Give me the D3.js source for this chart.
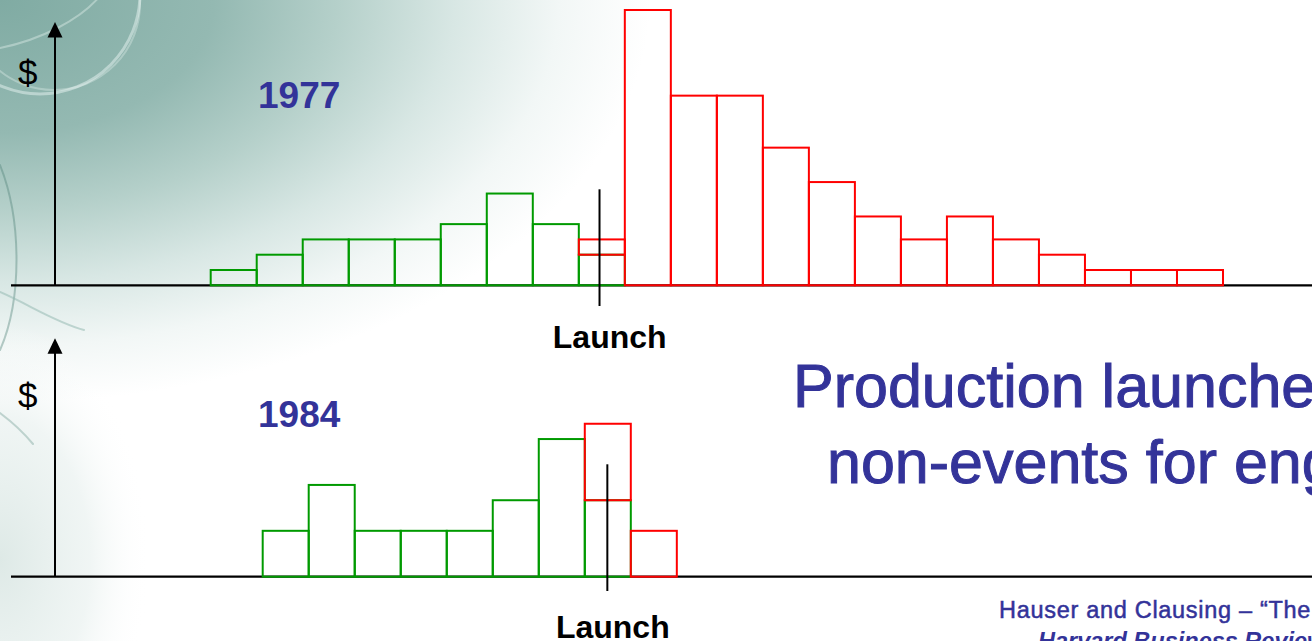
<!DOCTYPE html>
<html>
<head>
<meta charset="utf-8">
<script src="https://cdn.jsdelivr.net/npm/d3@7/dist/d3.min.js"></script>
<style>
  html, body { margin: 0; padding: 0; background: #ffffff; }
  svg { display: block; }
</style>
</head>
<body>
<svg id="chart" width="1312" height="641"></svg>
<script>
// Spending per period around production launch (bin units, relative height)
const years = ["1977", "1984"];

// 1977: spending before launch (green) and after launch (red)
const pre1977 = [1, 2, 3, 3, 3, 4, 6, 4, 2];
const post1977 = [1, 18, 12.4, 12.4, 9, 6.75, 4.5, 3, 4.5, 3, 2, 1, 1, 1];
const postStartBin1977 = 8;     // first bin carrying post-launch spending
const firstBin1977 = 0;
const launchBin1977 = 8.45;

// 1984
const pre1984 = [3, 6, 3, 3, 3, 5, 9, 5];
const post1984 = [5, 3];
const postStartBin1984 = 7;
const firstBin1984 = 1.13;
const launchBin1984 = 7.49;

const axisLabel = "$";
const launchLabel = "Launch";
const titleLines = ["Production launches became", "non-events for engineering"];
const sourceLines = ["Hauser and Clausing \u2013 \u201CThe House of Quality,\u201D",
                     "Harvard Business Review, May\u2013June 1988"];

const W = 1312, H = 641;
const svg = d3.select("#chart");
const GREEN = "#009a00", RED = "#ff0000", BLUE = "#333399";

// ---------- background ----------
const defs = svg.append("defs");
const bg = defs.append("radialGradient")
  .attr("id", "bgGrad")
  .attr("gradientUnits", "userSpaceOnUse")
  .attr("cx", 0).attr("cy", 0).attr("r", 650)
  .attr("gradientTransform", "scale(1,0.62)");
[[0, "#80aba3"], [0.33, "#94b9b2"], [0.52, "#b5d0ca"], [0.7, "#d8e7e4"], [0.86, "#f2f7f6"], [1, "#ffffff"]]
  .forEach(([o, c]) => bg.append("stop").attr("offset", o).attr("stop-color", c));

svg.append("rect").attr("width", W).attr("height", H).attr("fill", "#ffffff");
svg.append("rect").attr("width", W).attr("height", H).attr("fill", "url(#bgGrad)");

// pale wash along the lower left edge
const lw = defs.append("radialGradient").attr("id", "leftWash")
  .attr("gradientUnits", "userSpaceOnUse")
  .attr("cx", 0).attr("cy", 0).attr("r", 1)
  .attr("gradientTransform", "translate(0,560) scale(150,240)");
lw.append("stop").attr("offset", 0).attr("stop-color", "#dce8e5").attr("stop-opacity", 0.95);
lw.append("stop").attr("offset", 0.6).attr("stop-color", "#e6efed").attr("stop-opacity", 0.6);
lw.append("stop").attr("offset", 1).attr("stop-color", "#ffffff").attr("stop-opacity", 0);
svg.append("rect").attr("x", 0).attr("y", 300).attr("width", 160).attr("height", 341)
  .attr("fill", "url(#leftWash)");

// decorative swirls
const deco = svg.append("g").attr("fill", "none").attr("stroke-linecap", "round");
deco.append("circle").attr("cx", 40).attr("cy", -6).attr("r", 100)
  .attr("stroke", "rgba(232,244,241,0.5)").attr("stroke-width", 3);
deco.append("circle").attr("cx", 54).attr("cy", 4).attr("r", 86)
  .attr("stroke", "rgba(232,244,241,0.35)").attr("stroke-width", 2);
deco.append("path").attr("d", "M0,48 C40,40 80,20 100,-4")
  .attr("stroke", "rgba(232,244,241,0.4)").attr("stroke-width", 2);
deco.append("path").attr("d", "M0,165 C22,220 22,300 0,350")
  .attr("stroke", "rgba(80,130,120,0.4)").attr("stroke-width", 2);
deco.append("path").attr("d", "M0,292 C30,305 55,322 84,330")
  .attr("stroke", "rgba(150,185,178,0.55)").attr("stroke-width", 2);
deco.append("path").attr("d", "M0,413 C12,422 24,433 33,444")
  .attr("stroke", "rgba(140,175,168,0.5)").attr("stroke-width", 2);

// ---------- scales ----------
const x = d3.scaleLinear().domain([0, 22]).range([210.7, 1223]);
const h = d3.scaleLinear().domain([0, 18]).range([0, 275.3]);

const panels = [
  { year: years[0], base: 285.3, pre: pre1977, post: post1977, postStart: postStartBin1977,
    first: firstBin1977, launch: launchBin1977, axisTop: 22, launchTop: 189.3, launchBottom: 306,
    launchLabelX: 609.7, launchLabelY: 348.3, dollarY: 85.4, yearY: 107.5 },
  { year: years[1], base: 576.7, pre: pre1984, post: post1984, postStart: postStartBin1984,
    first: firstBin1984, launch: launchBin1984, axisTop: 338.3, launchTop: 464.3, launchBottom: 591,
    launchLabelX: 612.8, launchLabelY: 637.7, dollarY: 407.5, yearY: 427.3 }
];

panels.forEach(p => {
  const g = svg.append("g");

  // baseline
  g.append("line").attr("x1", 11).attr("x2", W).attr("y1", p.base).attr("y2", p.base)
    .attr("stroke", "#000").attr("stroke-width", 2.2);

  // vertical $ axis with arrow head
  g.append("line").attr("x1", 55).attr("x2", 55).attr("y1", p.base).attr("y2", p.axisTop + 12)
    .attr("stroke", "#000").attr("stroke-width", 2);
  g.append("path")
    .attr("d", `M55,${p.axisTop} L62.5,${p.axisTop + 15.5} L47.5,${p.axisTop + 15.5} Z`)
    .attr("fill", "#000");
  g.append("text").attr("x", 18).attr("y", p.dollarY).text(axisLabel)
    .attr("font-family", "'Liberation Sans', Arial, sans-serif").attr("font-size", 35)
    .attr("fill", "#000");

  // year label
  g.append("text").attr("x", 258).attr("y", p.yearY).text(p.year)
    .attr("font-family", "'Liberation Sans', Arial, sans-serif").attr("font-weight", "bold")
    .attr("font-size", 37).attr("fill", BLUE);

  // pre-launch bins
  const preData = p.pre.map((v, i) => ({ bin: p.first + i, lo: 0, hi: v }));
  g.selectAll("rect.pre").data(preData).join("rect").attr("class", "pre")
    .attr("x", d => x(d.bin)).attr("width", d => x(d.bin + 1) - x(d.bin))
    .attr("y", d => p.base - h(d.hi)).attr("height", d => h(d.hi) - h(d.lo))
    .attr("fill", "none").attr("stroke", GREEN).attr("stroke-width", 2);

  // post-launch bins, stacked on any pre-launch spending in the same bin
  const postData = p.post.map((v, i) => {
    const idx = p.postStart + i;
    const lo = idx < p.pre.length ? p.pre[idx] : 0;
    return { bin: p.first + idx, lo: lo, hi: lo + v };
  });
  g.selectAll("rect.post").data(postData).join("rect").attr("class", "post")
    .attr("x", d => x(d.bin)).attr("width", d => x(d.bin + 1) - x(d.bin))
    .attr("y", d => p.base - h(d.hi)).attr("height", d => h(d.hi) - h(d.lo))
    .attr("fill", "none").attr("stroke", RED).attr("stroke-width", 2);

  // launch marker
  const lx = x(p.first + p.launch);
  g.append("line").attr("x1", lx).attr("x2", lx).attr("y1", p.launchTop).attr("y2", p.launchBottom)
    .attr("stroke", "#000").attr("stroke-width", 2);
  g.append("text").attr("x", p.launchLabelX).attr("y", p.launchLabelY)
    .attr("text-anchor", "middle").text(launchLabel)
    .attr("font-family", "'Liberation Sans', Arial, sans-serif").attr("font-weight", "bold")
    .attr("font-size", 32).attr("fill", "#000");
});

// ---------- title ----------
const title = svg.append("g")
  .attr("font-family", "'Liberation Sans', Arial, sans-serif")
  .attr("font-size", 61).attr("fill", BLUE)
  .attr("stroke", BLUE).attr("stroke-width", 1).attr("paint-order", "stroke");
title.append("text").attr("x", 793).attr("y", 406.7).text(titleLines[0]);
title.append("text").attr("x", 827).attr("y", 482.7).text(titleLines[1]);

// ---------- source ----------
svg.append("text").attr("x", 999).attr("y", 617.7).text(sourceLines[0])
  .attr("font-family", "'Liberation Sans', Arial, sans-serif").attr("font-size", 23.5)
  .attr("letter-spacing", 0.7)
  .attr("fill", BLUE).attr("stroke", BLUE).attr("stroke-width", 0.5);
svg.append("text").attr("x", 1038).attr("y", 649).text(sourceLines[1])
  .attr("font-family", "'Liberation Sans', Arial, sans-serif").attr("font-size", 23.5)
  .attr("font-weight", "bold").attr("font-style", "italic").attr("fill", BLUE);
</script>
</body>
</html>
